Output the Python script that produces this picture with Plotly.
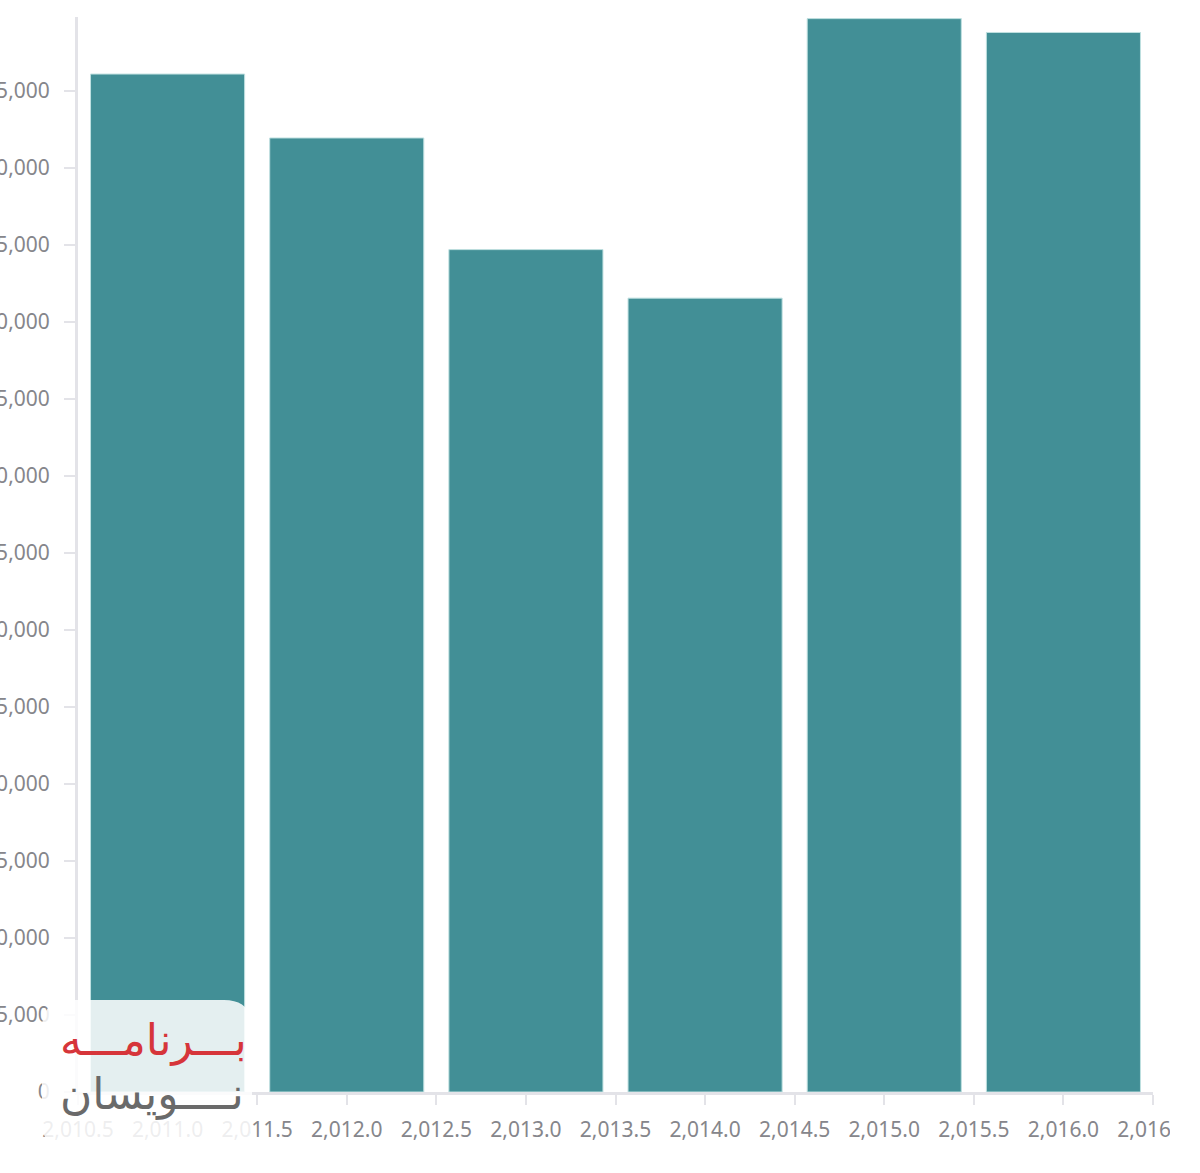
import plotly.graph_objects as go

# ---- data ----
years = [2011, 2012, 2013, 2014, 2015, 2016]
values = [66100, 61950, 54700, 51550, 69700, 68800]
x_ticks = [2010.5, 2011.0, 2011.5, 2012.0, 2012.5, 2013.0, 2013.5,
           2014.0, 2014.5, 2015.0, 2015.5, 2016.0, 2016.5]
y_ticks = [0, 5000, 10000, 15000, 20000, 25000, 30000, 35000,
           40000, 45000, 50000, 55000, 60000, 65000]
watermark_top = "بـــرنامـــه"
watermark_bottom = "نــــویسان"

W, H = 1200, 1173
# plot area in screen pixels: left 78, right 1153, top 17, bottom 1092
ML, MT, MR, MB = 78, 17, W - 1153, H - 1092
PW, PH = W - ML - MR, H - MT - MB


def px(x):  # screen x -> paper
    return (x - ML) / PW


def py(y):  # screen y -> paper
    return (H - MB - y) / PH


BAR = "#428f96"
AXIS = "#e3e3e8"
TICKTXT = "#86868b"
FONT = "Noto Sans"

fig = go.Figure()
fig.add_trace(go.Bar(
    x=years, y=values,
    marker=dict(color=BAR, line=dict(color="#bfe0e0", width=1)),
    hoverinfo="x+y",
))

axis_font = dict(family=FONT, size=21, color=TICKTXT)

fig.update_layout(
    width=W, height=H,
    margin=dict(l=ML, r=MR, t=MT, b=MB, pad=0),
    paper_bgcolor="white", plot_bgcolor="white",
    template="none",
    showlegend=False,
    hovermode=False,
    bargap=0.14,
    xaxis=dict(
        range=[2010.5, 2016.5], tickvals=x_ticks, tickformat=",.1f",
        ticks="outside", ticklen=10, tickwidth=2, tickcolor=AXIS,
        showline=True, linecolor=AXIS, linewidth=3,
        showgrid=False, zeroline=False, automargin=False,
        tickfont=axis_font, ticklabelstandoff=7,
    ),
    xaxis2=dict(
        range=[2010.5, 2016.5], tickvals=x_ticks, overlaying="x",
        anchor="y", side="bottom",
        ticks="inside", ticklen=10, tickwidth=2, tickcolor=AXIS,
        showticklabels=False, showline=False, showgrid=False,
        zeroline=False, automargin=False,
    ),
    yaxis=dict(
        range=[0, 69805], tickvals=y_ticks, tickformat=",d",
        ticks="outside", ticklen=11, tickwidth=2, tickcolor=AXIS,
        showline=True, linecolor=AXIS, linewidth=3,
        showgrid=False, zeroline=False, automargin=False,
        tickfont=axis_font, ticklabelstandoff=10,
    ),
)

# watermark box (rounded rectangle)
x0, x1, y0, y1, r = 42, 252, 1000, 1150, 28
path = (f"M {px(x0 + r)} {py(y0)} L {px(x1 - r)} {py(y0)} "
        f"Q {px(x1)} {py(y0)} {px(x1)} {py(y0 + r)} "
        f"L {px(x1)} {py(y1 - r)} Q {px(x1)} {py(y1)} {px(x1 - r)} {py(y1)} "
        f"L {px(x0 + r)} {py(y1)} Q {px(x0)} {py(y1)} {px(x0)} {py(y1 - r)} "
        f"L {px(x0)} {py(y0 + r)} Q {px(x0)} {py(y0)} {px(x0 + r)} {py(y0)} Z")
fig.add_shape(type="path", path=path, xref="paper", yref="paper",
              fillcolor="rgba(255,255,255,0.86)", line=dict(width=0),
              layer="above")

# crop mask on the right edge (last label is cut off in the original)
fig.add_shape(type="rect", xref="paper", yref="paper",
              x0=px(1170), x1=px(1205), y0=py(1160), y1=py(1105),
              fillcolor="white", line=dict(width=0), layer="above")

fig.add_annotation(text=watermark_top, xref="paper", yref="paper",
                   x=px(58), y=py(1068), showarrow=False,
                   font=dict(family="DejaVu Sans", size=44, color="#d6353a"))
fig.add_annotation(text=watermark_bottom, xref="paper", yref="paper",
                   x=px(58), y=py(1122), showarrow=False,
                   font=dict(family="DejaVu Sans", size=44, color="#6a6a6a"))

fig.write_html("out.html", config={"displayModeBar": False},
               post_script="document.body.style.margin='0';")
